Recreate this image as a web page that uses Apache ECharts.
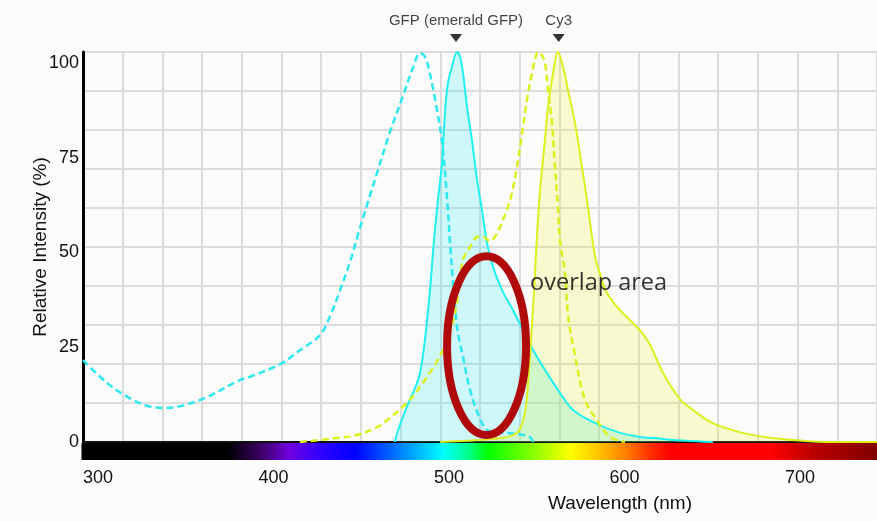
<!DOCTYPE html>
<html>
<head>
<meta charset="utf-8">
<script src="https://cdn.jsdelivr.net/npm/echarts@6.0.0/dist/echarts.min.js"></script>
<style>
  html, body { margin: 0; padding: 0; background: #fbfbfb; }
  #chart { width: 877px; height: 521px; }
</style>
</head>
<body>
<div id="chart"></div>
<script>
// spectra: [wavelength nm, relative intensity %]
const gfpExcitation = [
  [291.5, 21], [305, 15.2], [317, 11.5], [328, 9.3], [337, 8.7], [347, 9.2], [361, 11.3],
  [381, 15.9], [387, 16.8], [404, 20], [415, 23.5], [426.5, 27.4], [432, 32], [438, 39],
  [444, 46.7], [448, 53], [459, 69], [466, 79], [474, 89], [479.5, 96], [483.5, 99.7],
  [486, 99], [488, 96.7], [492, 88], [496, 77], [499, 62], [500.6, 51], [504.6, 29.5],
  [508, 21.8], [512, 13.3], [518, 5.6], [522, 3], [527, 2.5], [533, 2.3], [540, 2],
  [546, 1.3], [548, 0]
];
const gfpEmission = [
  [469.2, 0], [471, 3], [476, 9], [480.6, 13.8], [483.5, 17.7], [486.3, 26.2], [489.2, 39],
  [491.5, 52], [493.7, 62], [496, 71.5], [497.7, 84.4], [499.4, 92], [501.7, 96.2],
  [504.6, 100], [506.3, 98.7], [508, 94.6], [510.3, 85.9], [513.1, 77.4], [516, 67.2],
  [518.8, 59.5], [521.7, 51], [525.1, 44.9], [530.2, 39], [536.5, 33.8], [542.2, 28.7],
  [547.9, 23.6], [555.8, 17.7], [563.2, 12.6], [570.7, 8.2], [582.1, 5.1], [595.7, 2.6],
  [608.8, 1.3], [616.2, 1], [635.6, 0.3], [650.4, 0]
];
const cy3Excitation = [
  [415, 0], [432, 0.8], [447.6, 1.8], [459, 3.8], [466.4, 6.2], [476, 10], [483.5, 14.1],
  [490.9, 19], [496.6, 23.6], [500.6, 28], [504.6, 36], [508, 46.7], [512, 50], [516.5, 52.6],
  [520, 52.5], [523.4, 51.5], [526, 52.5], [529, 55], [534.8, 62], [538.7, 70.5], [541.6, 79],
  [544.4, 87.7], [547.3, 94.6], [549, 98], [550.7, 100], [552.5, 99.5], [554.7, 97.2],
  [556.4, 90.3], [558.7, 81.8], [560.4, 70.5], [562.1, 60.3], [563.2, 51.8], [566.1, 43.3],
  [567.8, 32.6], [571.2, 23.6], [577.5, 10.8], [584.3, 5.6], [591.7, 1.3], [600.3, 0]
];
const cy3Emission = [
  [495, 0], [510, 0.3], [525, 0.8], [535, 1.5], [540, 3], [543.5, 8], [545.5, 18], [547.3, 30],
  [549, 43], [550.1, 52.6], [551.9, 64.6], [554.7, 77.4], [556.4, 85.9], [559.3, 94.6],
  [562.1, 100], [565, 96.2], [567.8, 90.3], [571.8, 81.8], [575.8, 70.5], [579.2, 60.3],
  [581.5, 52.6], [583.5, 47], [586, 43.3], [590, 38.2], [597.4, 33.8], [604.8, 30.5],
  [610, 28], [614.5, 25], [622, 17.7], [631.6, 11], [639, 8.2], [650, 4.9], [665, 2.6],
  [680, 1.3], [700, 0.4], [718, 0], [743.9, 0]
];

// peak markers above the plot
const peakNames = ["GFP (emerald GFP)", "Cy3"];
const peakWavelengths = [504, 562.5];
const peakMarkLevel = 103.6;

// tick labels
const xTickValues = [300, 400, 500, 600, 700];
const yTickValues = [0, 25, 50, 75, 100];

// colour bar under the axis
const spectrumWl = [291.45, 373.5, 392, 409, 426.5, 446.4, 472, 496.6, 512, 521.7, 551.9, 569, 586, 600.3, 614.5, 626, 683, 705.7, 743.9];
const spectrumColors = ["#000000", "#000000", "#3a0060", "#7000e0", "#3000ff", "#0000ff", "#0080ff", "#00ffff", "#00ff80", "#00ff00", "#a0ff00", "#ffff00", "#ffc000", "#ff8000", "#ff3000", "#ff0000", "#ff0000", "#c00000", "#800000"];

// annotation: ellipse [centre wl, centre %, radius nm, radius %] and its label
const overlapEllipse = [521.4, 24.7, 22.5, 22.9];
const overlapLabel = [546.2, 40.8];

const spectrumData = spectrumWl.slice(0, -1).map((w, i) => [w, spectrumWl[i + 1], i]);

function renderSpectrum(params, api) {
  const i = api.value(2);
  const p0 = api.coord([api.value(0), 0]);
  const p1 = api.coord([api.value(1), 0]);
  const x0 = i === 0 ? p0[0] - 1.5 : p0[0];
  return {
    type: "rect",
    shape: { x: x0, y: p0[1] + 1, width: p1[0] - x0 + 0.6, height: 17 },
    style: {
      fill: new echarts.graphic.LinearGradient(0, 0, 1, 0, [
        { offset: 0, color: spectrumColors[i] },
        { offset: 1, color: spectrumColors[i + 1] }
      ])
    }
  };
}

function renderEllipse(params, api) {
  const c = api.coord([api.value(0), api.value(1)]);
  const r = api.size([api.value(2), api.value(3)]);
  return {
    type: "ellipse",
    shape: { cx: c[0], cy: c[1], rx: r[0], ry: r[1] },
    style: { fill: "none", stroke: "#b00a0a", lineWidth: 8 }
  };
}

const lineBase = { type: "line", showSymbol: false, smooth: 0.35, silent: true };

const chart = echarts.init(document.getElementById("chart"));
chart.setOption({
  backgroundColor: "#fbfbfb",
  animation: false,
  title: {
    text: "Wavelength (nm)",
    left: 548,
    top: 494,
    padding: 0,
    textStyle: { fontFamily: "Liberation Sans", fontSize: 19, fontWeight: "normal", color: "#111" }
  },
  grid: { left: 83, right: 0, top: 52, bottom: 79 },
  xAxis: [
    {
      type: "value",
      min: 291.45,
      max: 743.9,
      axisLine: { lineStyle: { color: "#111", width: 2 } },
      axisTick: { show: false },
      splitLine: { show: false },
      axisLabel: {
        customValues: xTickValues,
        margin: 27,
        fontFamily: "Liberation Sans",
        fontSize: 18,
        color: "#111"
      }
    },
    {
      // only for the 20 x 10 background grid
      type: "value",
      min: 0,
      max: 20,
      interval: 1,
      axisLine: { show: false },
      axisTick: { show: false },
      axisLabel: { show: false },
      splitLine: { lineStyle: { color: "#dcdcdc", width: 2 } }
    }
  ],
  yAxis: [
    {
      type: "value",
      min: 0,
      max: 100,
      interval: 10,
      axisLine: { show: true, lineStyle: { color: "#000", width: 3 } },
      axisTick: { show: false },
      axisLabel: { show: false },
      splitLine: { lineStyle: { color: "#dcdcdc", width: 2 } }
    },
    {
      type: "value",
      position: "left",
      min: 0,
      max: 102.9,
      axisLine: { show: false },
      axisTick: { show: false },
      splitLine: { show: false },
      axisLabel: {
        customValues: yTickValues,
        margin: 4,
        fontFamily: "Liberation Sans",
        fontSize: 18,
        color: "#111"
      },
      name: "Relative Intensity (%)",
      nameLocation: "middle",
      nameRotate: 90,
      nameGap: 33,
      nameMoveOverlap: false,
      nameTextStyle: { fontFamily: "Liberation Sans", fontSize: 19, color: "#111" }
    }
  ],
  series: [
    Object.assign({}, lineBase, {
      name: "GFP excitation",
      data: gfpExcitation,
      lineStyle: { color: "#2ee8f0", width: 2.5, type: [7, 4] }
    }),
    Object.assign({}, lineBase, {
      name: "GFP emission",
      data: gfpEmission,
      lineStyle: { color: "#1ff0f0", width: 2 },
      areaStyle: { color: "rgba(0,235,240,0.26)" }
    }),
    Object.assign({}, lineBase, {
      name: "Cy3 excitation",
      data: cy3Excitation,
      lineStyle: { color: "#dcf01e", width: 2.5, type: [7, 4] }
    }),
    Object.assign({}, lineBase, {
      name: "Cy3 emission",
      data: cy3Emission,
      lineStyle: { color: "#dcf01e", width: 2 },
      areaStyle: { color: "rgba(236,245,0,0.25)" }
    }),
    {
      type: "custom",
      name: "spectrum",
      data: spectrumData,
      renderItem: renderSpectrum,
      clip: false,
      silent: true
    },
    {
      type: "scatter",
      name: "peaks",
      data: peakWavelengths.map((w, i) => ({ name: peakNames[i], value: [w, peakMarkLevel] })),
      symbol: "triangle",
      symbolRotate: 180,
      symbolSize: [12, 8],
      itemStyle: { color: "#000" },
      clip: false,
      silent: true,
      label: {
        show: true,
        position: "top",
        distance: 6,
        formatter: "{b}",
        fontFamily: "Liberation Sans",
        fontSize: 15,
        color: "#111"
      }
    },
    {
      type: "custom",
      name: "overlap",
      data: [overlapEllipse],
      renderItem: renderEllipse,
      clip: false,
      silent: true,
      z: 5
    },
    {
      type: "scatter",
      name: "overlap label",
      data: [{ name: "overlap area", value: overlapLabel }],
      symbolSize: 0,
      silent: true,
      z: 5,
      label: {
        show: true,
        position: "right",
        distance: 0,
        formatter: "{b}",
        fontFamily: "Open Sans",
        fontSize: 23.5,
        color: "#000"
      }
    }
  ]
});
</script>
</body>
</html>
